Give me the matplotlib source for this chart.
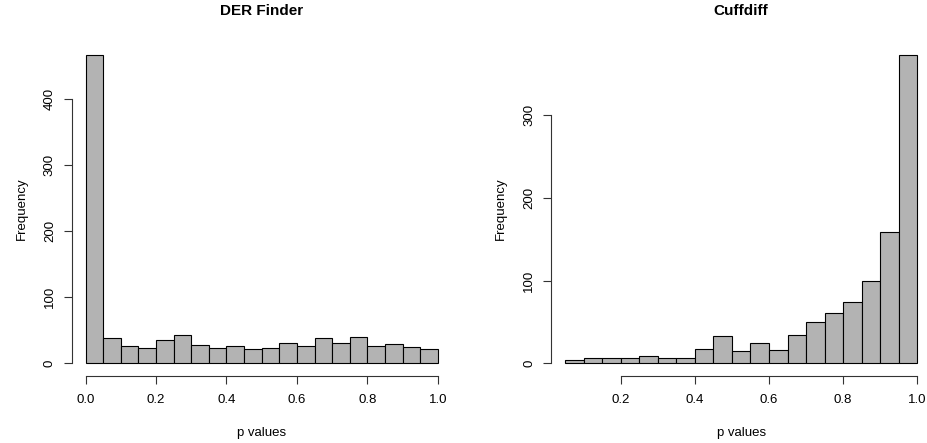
import matplotlib
matplotlib.use("Agg")
import matplotlib.pyplot as plt

plt.rcParams["font.family"] = ["Liberation Sans", "DejaVu Sans"]

BAR = "#B3B3B3"
W, H, DPI = 928, 443, 100

# DER Finder histogram: bin left edges and counts (bin width 0.05)
der_bins = [0.00, 0.05, 0.10, 0.15, 0.20, 0.25, 0.30, 0.35, 0.40, 0.45,
            0.50, 0.55, 0.60, 0.65, 0.70, 0.75, 0.80, 0.85, 0.90, 0.95]
der_counts = [467, 38, 27, 24, 36, 43, 28, 24, 26, 22,
              24, 31, 27, 38, 31, 40, 27, 30, 25, 22]
der_xticks = [0.0, 0.2, 0.4, 0.6, 0.8, 1.0]
der_yticks = [0, 100, 200, 300, 400]

# Cuffdiff histogram
cuff_bins = [0.05, 0.10, 0.15, 0.20, 0.25, 0.30, 0.35, 0.40, 0.45, 0.50,
             0.55, 0.60, 0.65, 0.70, 0.75, 0.80, 0.85, 0.90, 0.95]
cuff_counts = [4, 7, 6, 7, 9, 7, 6, 17, 33, 15,
               25, 16, 34, 50, 61, 74, 100, 159, 373]
cuff_xticks = [0.2, 0.4, 0.6, 0.8, 1.0]
cuff_yticks = [0, 100, 200, 300]

BIN_W = 0.05


def r_hist(ax, bins, counts, xticks, yticks, title):
    ax.bar(bins, counts, width=BIN_W, align="edge", color=BAR,
           edgecolor="black", linewidth=0.8)
    x0, x1 = bins[0], bins[-1] + BIN_W
    pad = 0.04 * (x1 - x0)
    ax.set_xlim(x0 - pad, x1 + pad)
    top = max(counts)
    ax.set_ylim(-0.04 * top, 1.04 * top)

    for s in ["top", "right"]:
        ax.spines[s].set_visible(False)
    ax.spines["left"].set_bounds(yticks[0], yticks[-1])
    ax.spines["bottom"].set_bounds(xticks[0], xticks[-1])
    for s in ["left", "bottom"]:
        ax.spines[s].set_linewidth(0.8)
        ax.spines[s].set_color("#333333")

    ax.set_xticks(xticks)
    ax.set_xticklabels([f"{t:.1f}" for t in xticks])
    ax.set_yticks(yticks)
    ax.set_yticklabels([str(t) for t in yticks], rotation=90, va="center")
    ax.tick_params(axis="both", direction="out", length=5.8, width=0.8,
                   color="#333333", labelsize=9.5)
    ax.tick_params(axis="x", pad=7.5)
    ax.tick_params(axis="y", pad=5.5)

    ax.set_title(title, fontsize=11, fontweight="bold", pad=20)
    ax.set_xlabel("p values", fontsize=9.5, labelpad=15)
    ax.set_ylabel("Frequency", fontsize=9.5, labelpad=11.6)


fig = plt.figure(figsize=(W / DPI, H / DPI), dpi=DPI)
bottom = (H - 375.7) / H
height = (375.7 - 42.5) / H
ax1 = fig.add_axes([71.6 / W, bottom, 380.2 / W, height])
ax2 = fig.add_axes([551.0 / W, bottom, 380.4 / W, height])

r_hist(ax1, der_bins, der_counts, der_xticks, der_yticks, "DER Finder")
r_hist(ax2, cuff_bins, cuff_counts, cuff_xticks, cuff_yticks, "Cuffdiff")

fig.savefig("out.png", dpi=DPI, facecolor="white")
